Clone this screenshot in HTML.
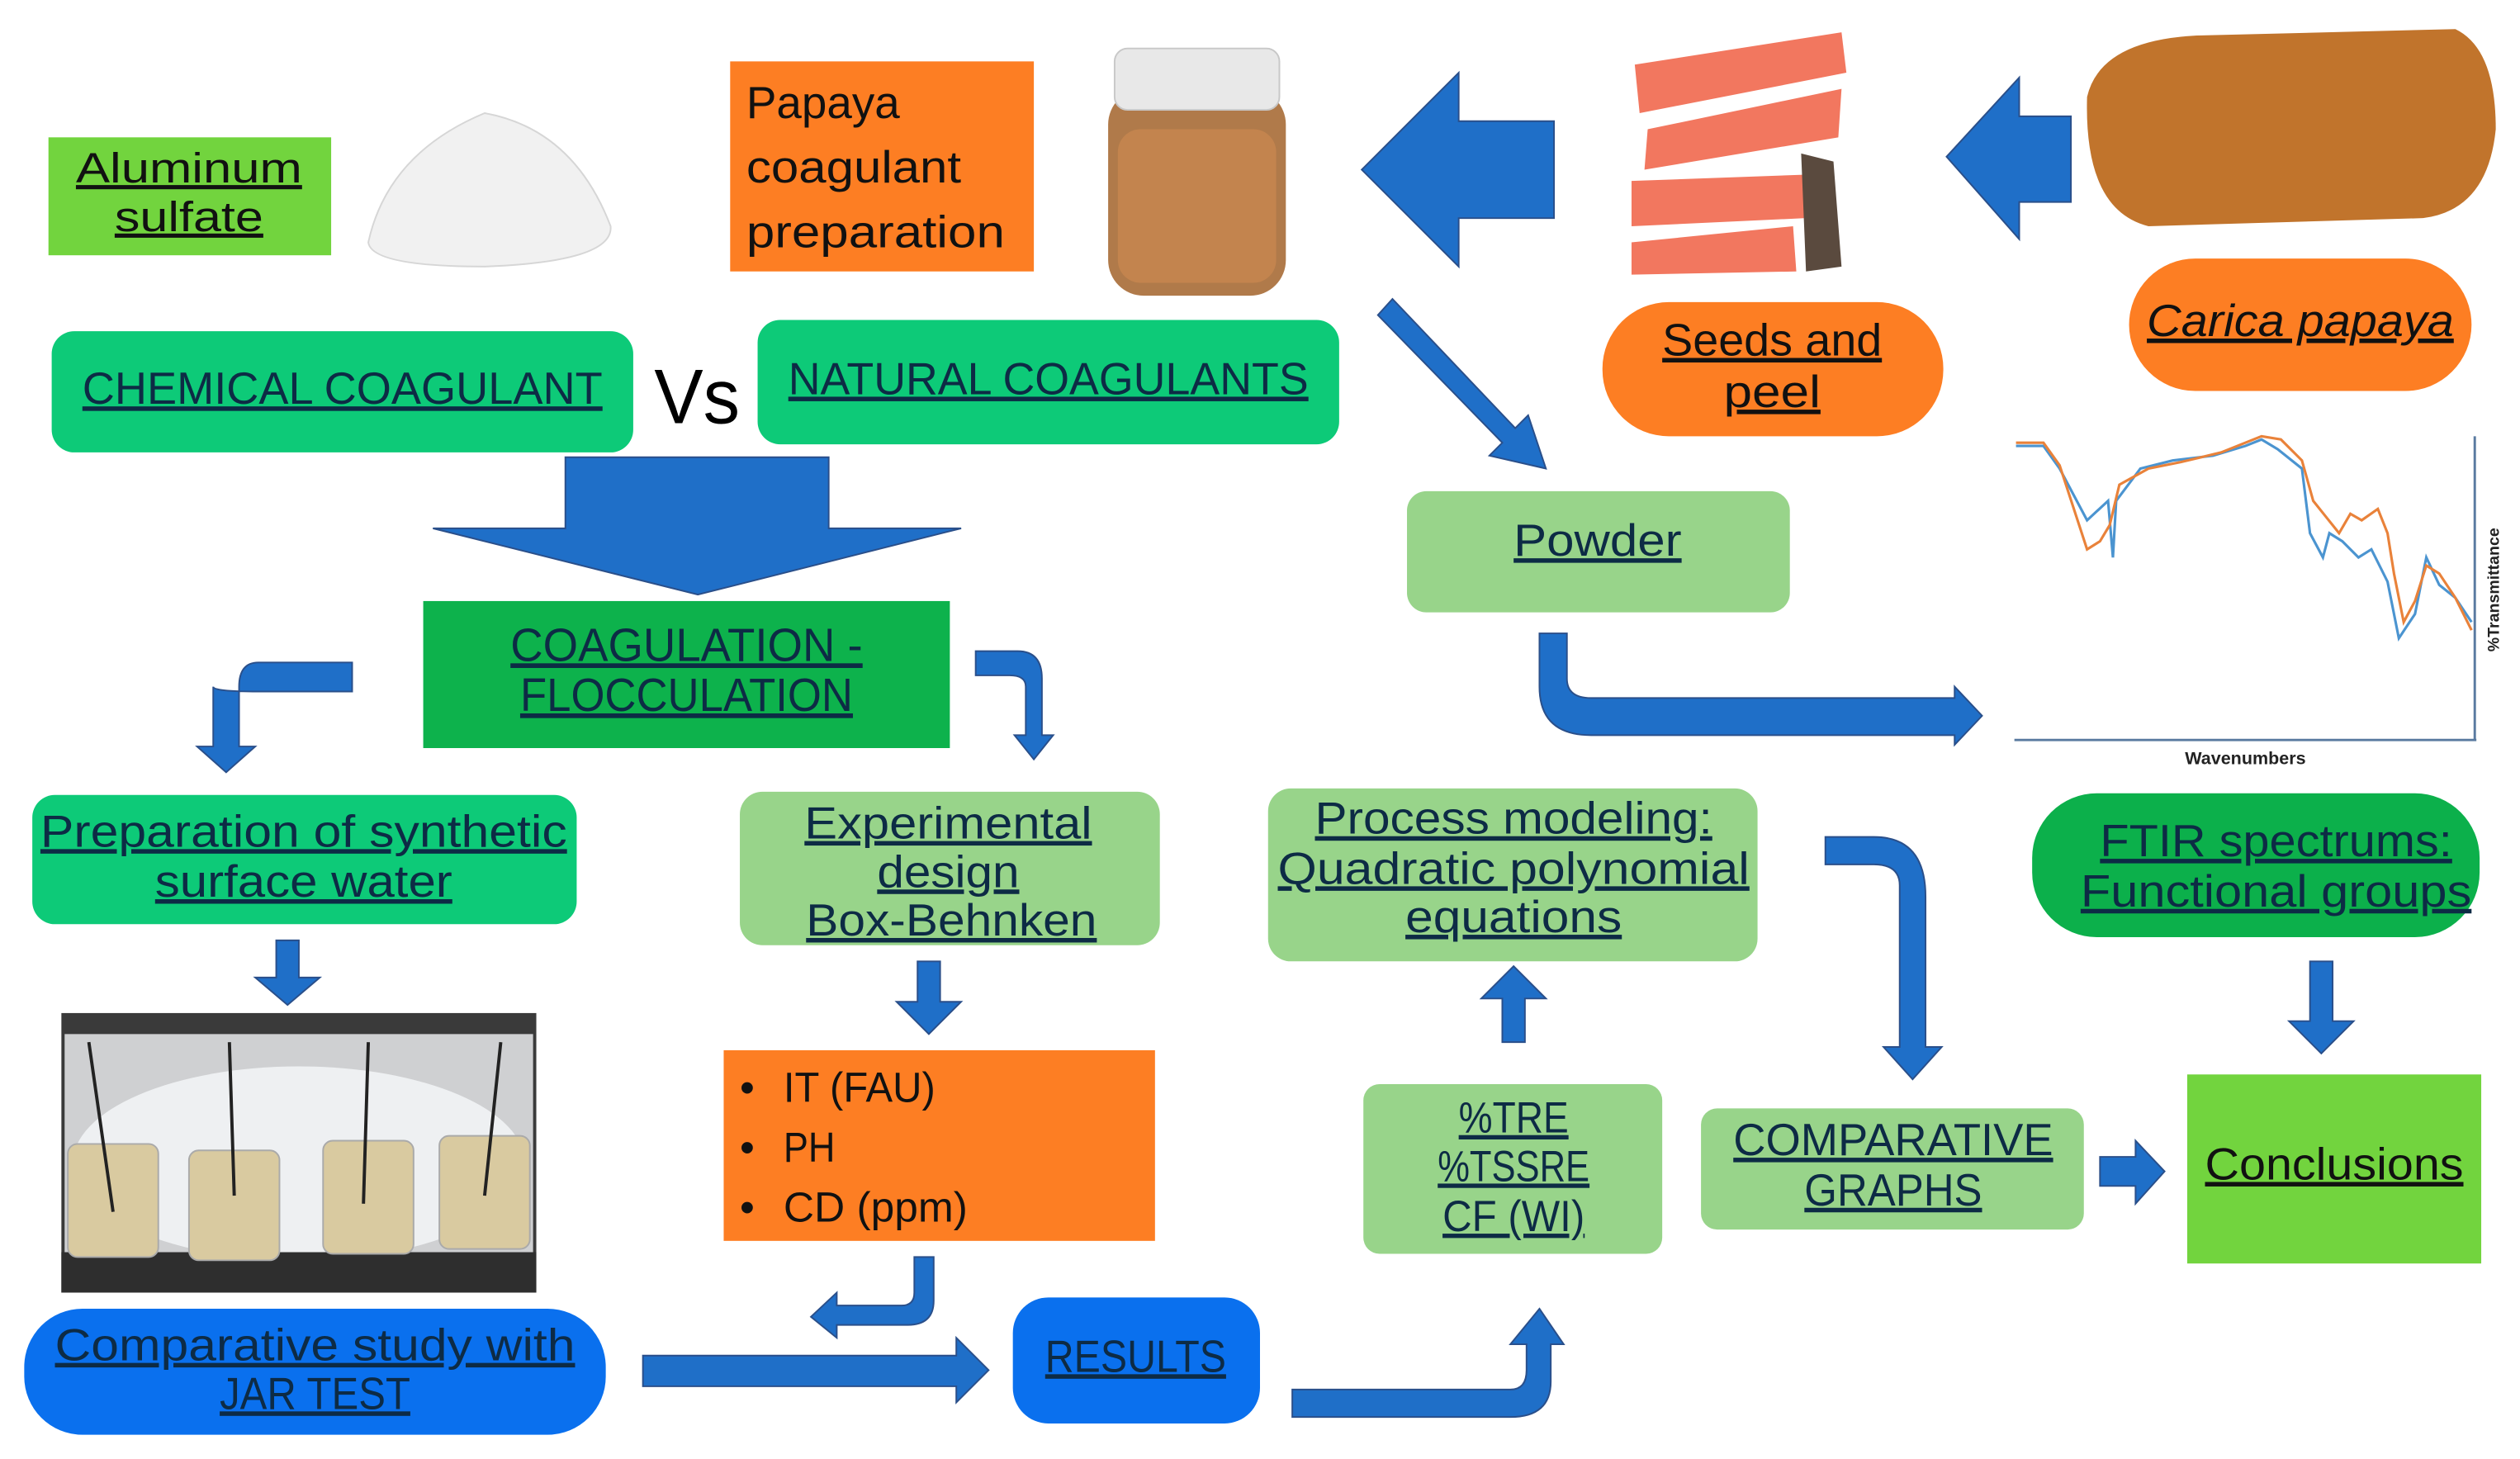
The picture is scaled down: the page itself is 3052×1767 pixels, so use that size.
<!DOCTYPE html>
<html><head><meta charset="utf-8"><style>
html,body{margin:0;padding:0;background:#fff}
svg{display:block}
text{font-family:"Liberation Sans",sans-serif;fill:#0d2b45;text-decoration:underline}
.a{fill:#1f6fc8;stroke:#2a4f8a;stroke-width:1}
</style></head><body>
<svg width="3052" height="1767" viewBox="0 0 1560 903" preserveAspectRatio="none" xmlns="http://www.w3.org/2000/svg">
<rect width="1560" height="903" fill="#fff"/>
<!-- Aluminum sulfate -->
<rect x="30" y="85" width="175" height="73" fill="#72d43e"/>
<text x="117" y="113" font-size="26" text-anchor="middle" textLength="140" lengthAdjust="spacingAndGlyphs" style="fill:#111">Aluminum</text>
<text x="117" y="143" font-size="26" text-anchor="middle" textLength="92" lengthAdjust="spacingAndGlyphs" style="fill:#111">sulfate</text>
<!-- powder pile -->
<path d="M228 150 Q240 95 300 70 Q355 80 378 140 Q380 162 300 165 Q230 165 228 150Z" fill="#f1f1f1" stroke="#d6d6d6"/>
<!-- Papaya coagulant preparation -->
<rect x="452" y="38" width="188" height="130" fill="#fd7e23"/>
<text x="462" y="73" font-size="28" style="fill:#111;text-decoration:none" textLength="95" lengthAdjust="spacingAndGlyphs">Papaya</text>
<text x="462" y="113" font-size="28" style="fill:#111;text-decoration:none" textLength="133" lengthAdjust="spacingAndGlyphs">coagulant</text>
<text x="462" y="153" font-size="28" style="fill:#111;text-decoration:none" textLength="160" lengthAdjust="spacingAndGlyphs">preparation</text>
<!-- jar -->
<rect x="686" y="55" width="110" height="128" rx="22" fill="#b07a4a"/>
<rect x="692" y="80" width="98" height="95" rx="14" fill="#c8874f" opacity=".8"/>
<rect x="690" y="30" width="102" height="38" rx="8" fill="#e8e8e8" stroke="#c8c8c8"/>
<!-- big left arrow 1 -->
<path class="a" d="M843 105 L903 45 L903 75 L962 75 L962 135 L903 135 L903 165Z"/>
<!-- seeds/peel -->
<g fill="#f2775f">
<path d="M1012 40 L1140 20 L1143 45 L1015 70Z"/>
<path d="M1020 80 L1140 55 L1138 85 L1018 105Z"/>
<path d="M1010 112 L1120 108 L1118 135 L1010 140Z"/>
<path d="M1010 150 L1110 140 L1112 168 L1010 170Z"/>
</g>
<path d="M1115 95 L1135 100 L1140 165 L1118 168Z" fill="#5a4a3e"/>
<!-- left arrow 2 -->
<path class="a" d="M1205 97 L1250 48 L1250 72 L1282 72 L1282 125 L1250 125 L1250 148Z"/>
<!-- papaya fruit -->
<path d="M1292 60 Q1300 25 1360 22 L1520 18 Q1545 30 1545 80 Q1540 130 1500 135 L1330 140 Q1290 130 1292 60Z" fill="#c1742c"/>
<!-- Carica papaya -->
<rect x="1318" y="160" width="212" height="82" rx="41" fill="#fd7e23"/>
<text x="1424" y="208" font-size="28" font-style="italic" text-anchor="middle" textLength="190" lengthAdjust="spacingAndGlyphs" style="fill:#111">Carica papaya</text>
<!-- Seeds and peel -->
<rect x="992" y="187" width="211" height="83" rx="41" fill="#fd7e23"/>
<text x="1097" y="220" font-size="28" text-anchor="middle" textLength="136" lengthAdjust="spacingAndGlyphs" style="fill:#111">Seeds and</text>
<text x="1097" y="252" font-size="28" text-anchor="middle" textLength="60" lengthAdjust="spacingAndGlyphs" style="fill:#111">peel</text>
<!-- CHEMICAL / NATURAL -->
<rect x="32" y="205" width="360" height="75" rx="14" fill="#0dca78"/>
<text x="212" y="250" font-size="28" text-anchor="middle" textLength="322" lengthAdjust="spacingAndGlyphs">CHEMICAL COAGULANT</text>
<text x="405" y="262" font-size="48" style="fill:#000;text-decoration:none" textLength="53" lengthAdjust="spacingAndGlyphs">Vs</text>
<rect x="469" y="198" width="360" height="77" rx="14" fill="#0dca78"/>
<text x="649" y="244" font-size="28" text-anchor="middle" textLength="322" lengthAdjust="spacingAndGlyphs">NATURAL COAGULANTS</text>
<!-- big down arrow -->
<path class="a" d="M350 283 L513 283 L513 327 L595 327 L432 368 L268 327 L350 327Z"/>
<!-- COAGULATION -->
<rect x="262" y="372" width="326" height="91" fill="#0db24c"/>
<text x="425" y="409" font-size="29" text-anchor="middle" textLength="218" lengthAdjust="spacingAndGlyphs">COAGULATION -</text>
<text x="425" y="440" font-size="29" text-anchor="middle" textLength="206" lengthAdjust="spacingAndGlyphs">FLOCCULATION</text>
<!-- curved arrows -->
<path class="a" d="M218 410 L160 410 Q148 410 148 425 L148 462 L158 462 L140 478 L122 462 L132 462 L132 425 Q132 428 160 428 L218 428Z"/>
<path class="a" d="M604 403 L630 403 Q645 403 645 420 L645 455 L652 455 L640 470 L628 455 L635 455 L635 425 Q635 418 625 418 L604 418Z"/>
<!-- diagonal arrow -->
<path class="a" d="M853 195 L862 185 L938 265 L946 257 L957 290 L922 282 L930 274 Z"/>
<!-- Powder -->
<rect x="871" y="304" width="237" height="75" rx="12" fill="#98d48a"/>
<text x="989" y="344" font-size="28" text-anchor="middle" textLength="104" lengthAdjust="spacingAndGlyphs">Powder</text>
<!-- powder bent arrow -->
<path class="a" d="M953 392 L970 392 L970 420 Q970 432 985 432 L1210 432 L1210 425 L1227 443 L1210 461 L1210 455 L985 455 Q953 455 953 425Z"/>
<!-- FTIR chart -->
<line x1="1247" y1="458" x2="1533" y2="458" stroke="#5a7aa0" stroke-width="1.5"/>
<line x1="1532" y1="270" x2="1532" y2="458" stroke="#5a7aa0" stroke-width="1.5"/>
<polyline fill="none" stroke="#4b94d0" stroke-width="1.6" points="1248,276 1265,276 1275,290 1292,322 1305,310 1308,345 1310,310 1325,290 1345,285 1370,282 1390,276 1400,272 1410,278 1425,290 1430,330 1438,345 1442,330 1450,335 1460,345 1468,340 1478,360 1485,395 1495,380 1502,345 1510,362 1520,370 1530,385"/>
<polyline fill="none" stroke="#e9823a" stroke-width="1.6" points="1248,274 1265,274 1275,288 1292,340 1300,335 1306,325 1312,300 1330,290 1350,286 1375,280 1400,270 1412,272 1425,285 1432,310 1440,320 1448,330 1455,318 1462,322 1472,315 1478,330 1482,355 1488,385 1495,372 1502,350 1510,355 1520,370 1530,390"/>
<text x="1390" y="473" font-size="11" font-weight="bold" text-anchor="middle" style="fill:#222;text-decoration:none">Wavenumbers</text>
<text x="0" y="0" font-size="10" font-weight="bold" text-anchor="middle" transform="translate(1547,365) rotate(-90)" style="fill:#222;text-decoration:none">%Transmittance</text>
<!-- Preparation of synthetic surface water -->
<rect x="20" y="492" width="337" height="80" rx="14" fill="#0dca78"/>
<text x="188" y="524" font-size="28" text-anchor="middle" textLength="326" lengthAdjust="spacingAndGlyphs">Preparation of synthetic</text>
<text x="188" y="555" font-size="28" text-anchor="middle" textLength="184" lengthAdjust="spacingAndGlyphs">surface water</text>
<!-- Experimental design -->
<rect x="458" y="490" width="260" height="95" rx="14" fill="#98d48a"/>
<text x="587" y="519" font-size="28" text-anchor="middle" textLength="178" lengthAdjust="spacingAndGlyphs">Experimental</text>
<text x="587" y="549" font-size="28" text-anchor="middle" textLength="88" lengthAdjust="spacingAndGlyphs">design</text>
<text x="589" y="579" font-size="28" text-anchor="middle" textLength="180" lengthAdjust="spacingAndGlyphs">Box-Behnken</text>
<!-- Process modeling -->
<rect x="785" y="488" width="303" height="107" rx="14" fill="#98d48a"/>
<text x="937" y="516" font-size="28" text-anchor="middle" textLength="246" lengthAdjust="spacingAndGlyphs">Process modeling:</text>
<text x="937" y="547" font-size="28" text-anchor="middle" textLength="292" lengthAdjust="spacingAndGlyphs">Quadratic polynomial</text>
<text x="937" y="577" font-size="28" text-anchor="middle" textLength="134" lengthAdjust="spacingAndGlyphs">equations</text>
<!-- FTIR spectrums -->
<rect x="1258" y="491" width="277" height="89" rx="40" fill="#0cb04b"/>
<text x="1409" y="530" font-size="28" text-anchor="middle" textLength="218" lengthAdjust="spacingAndGlyphs">FTIR spectrums:</text>
<text x="1409" y="561" font-size="28" text-anchor="middle" textLength="242" lengthAdjust="spacingAndGlyphs">Functional groups</text>
<!-- small down arrows -->
<path class="a" d="M171 582 L185 582 L185 605 L198 605 L178 622 L158 605 L171 605Z"/>
<path class="a" d="M568 595 L582 595 L582 620 L595 620 L575 640 L555 620 L568 620Z"/>
<path class="a" d="M1430 595 L1444 595 L1444 632 L1457 632 L1437 652 L1417 632 L1430 632Z"/>
<path class="a" d="M930 645 L944 645 L944 618 L957 618 L937 598 L917 618 L930 618Z"/>
<!-- jar test photo -->
<rect x="38" y="627" width="294" height="173" fill="#3a3a3a"/>
<rect x="40" y="640" width="290" height="140" fill="#cfd0d2"/>
<ellipse cx="185" cy="720" rx="140" ry="60" fill="#eef0f2"/>
<rect x="38" y="775" width="294" height="25" fill="#2e2e2e"/>
<g fill="#d9caa0" stroke="#aaa">
<rect x="42" y="708" width="56" height="70" rx="6"/>
<rect x="117" y="712" width="56" height="68" rx="6"/>
<rect x="200" y="706" width="56" height="70" rx="6"/>
<rect x="272" y="703" width="56" height="70" rx="6"/>
</g>
<g stroke="#222" stroke-width="2"><line x1="55" y1="645" x2="70" y2="750"/><line x1="142" y1="645" x2="145" y2="740"/><line x1="228" y1="645" x2="225" y2="745"/><line x1="310" y1="645" x2="300" y2="740"/></g>
<!-- orange list -->
<rect x="448" y="650" width="267" height="118" fill="#fd7e23"/>
<g font-size="26" style="text-decoration:none">
<text x="458" y="682" style="fill:#111;text-decoration:none">•</text><text x="485" y="682" style="fill:#111;text-decoration:none" textLength="94" lengthAdjust="spacingAndGlyphs">IT (FAU)</text>
<text x="458" y="719" style="fill:#111;text-decoration:none">•</text><text x="485" y="719" style="fill:#111;text-decoration:none" textLength="32" lengthAdjust="spacingAndGlyphs">PH</text>
<text x="458" y="756" style="fill:#111;text-decoration:none">•</text><text x="485" y="756" style="fill:#111;text-decoration:none" textLength="114" lengthAdjust="spacingAndGlyphs">CD (ppm)</text>
</g>
<!-- %TRE -->
<rect x="844" y="671" width="185" height="105" rx="10" fill="#98d48a"/>
<text x="937" y="701" font-size="27" text-anchor="middle" textLength="68" lengthAdjust="spacingAndGlyphs">%TRE</text>
<text x="937" y="731" font-size="27" text-anchor="middle" textLength="94" lengthAdjust="spacingAndGlyphs">%TSSRE</text>
<text x="937" y="762" font-size="27" text-anchor="middle" textLength="88" lengthAdjust="spacingAndGlyphs">CF (WI)</text>
<!-- curved arrow to comparative graphs -->
<path class="a" d="M1130 518 L1160 518 Q1192 518 1192 555 L1192 648 L1202 648 L1184 668 L1166 648 L1176 648 L1176 548 Q1176 535 1160 535 L1130 535Z"/>
<!-- COMPARATIVE GRAPHS -->
<rect x="1053" y="686" width="237" height="75" rx="10" fill="#98d48a"/>
<text x="1172" y="715" font-size="28" text-anchor="middle" textLength="198" lengthAdjust="spacingAndGlyphs">COMPARATIVE</text>
<text x="1172" y="746" font-size="28" text-anchor="middle" textLength="110" lengthAdjust="spacingAndGlyphs">GRAPHS</text>
<path class="a" d="M1300 716 L1322 716 L1322 706 L1340 725 L1322 745 L1322 734 L1300 734Z"/>
<!-- Conclusions -->
<rect x="1354" y="665" width="182" height="117" fill="#72d43e"/>
<text x="1445" y="730" font-size="28" text-anchor="middle" textLength="160" lengthAdjust="spacingAndGlyphs" style="fill:#111">Conclusions</text>
<!-- Comparative study with JAR TEST -->
<rect x="15" y="810" width="360" height="78" rx="36" fill="#0a70ee"/>
<text x="195" y="842" font-size="28" text-anchor="middle" textLength="322" lengthAdjust="spacingAndGlyphs">Comparative study with</text>
<text x="195" y="872" font-size="28" text-anchor="middle" textLength="118" lengthAdjust="spacingAndGlyphs">JAR TEST</text>
<path class="a" d="M398 839 L592 839 L592 828 L612 848 L592 868 L592 858 L398 858Z"/>
<!-- RESULTS -->
<rect x="627" y="803" width="153" height="78" rx="22" fill="#0a70ee"/>
<text x="703" y="849" font-size="28" text-anchor="middle" textLength="112" lengthAdjust="spacingAndGlyphs">RESULTS</text>
<!-- bent up arrow -->
<path class="a" d="M800 860 L935 860 Q945 860 945 848 L945 832 L935 832 L953 810 L968 832 L960 832 L960 855 Q960 877 935 877 L800 877Z"/>
<!-- small bent arrow -->
<path class="a" d="M566 778 L578 778 L578 805 Q578 820 562 820 L518 820 L518 828 L502 815 L518 800 L518 808 L558 808 Q566 808 566 800Z"/>
</svg>
</body></html>
